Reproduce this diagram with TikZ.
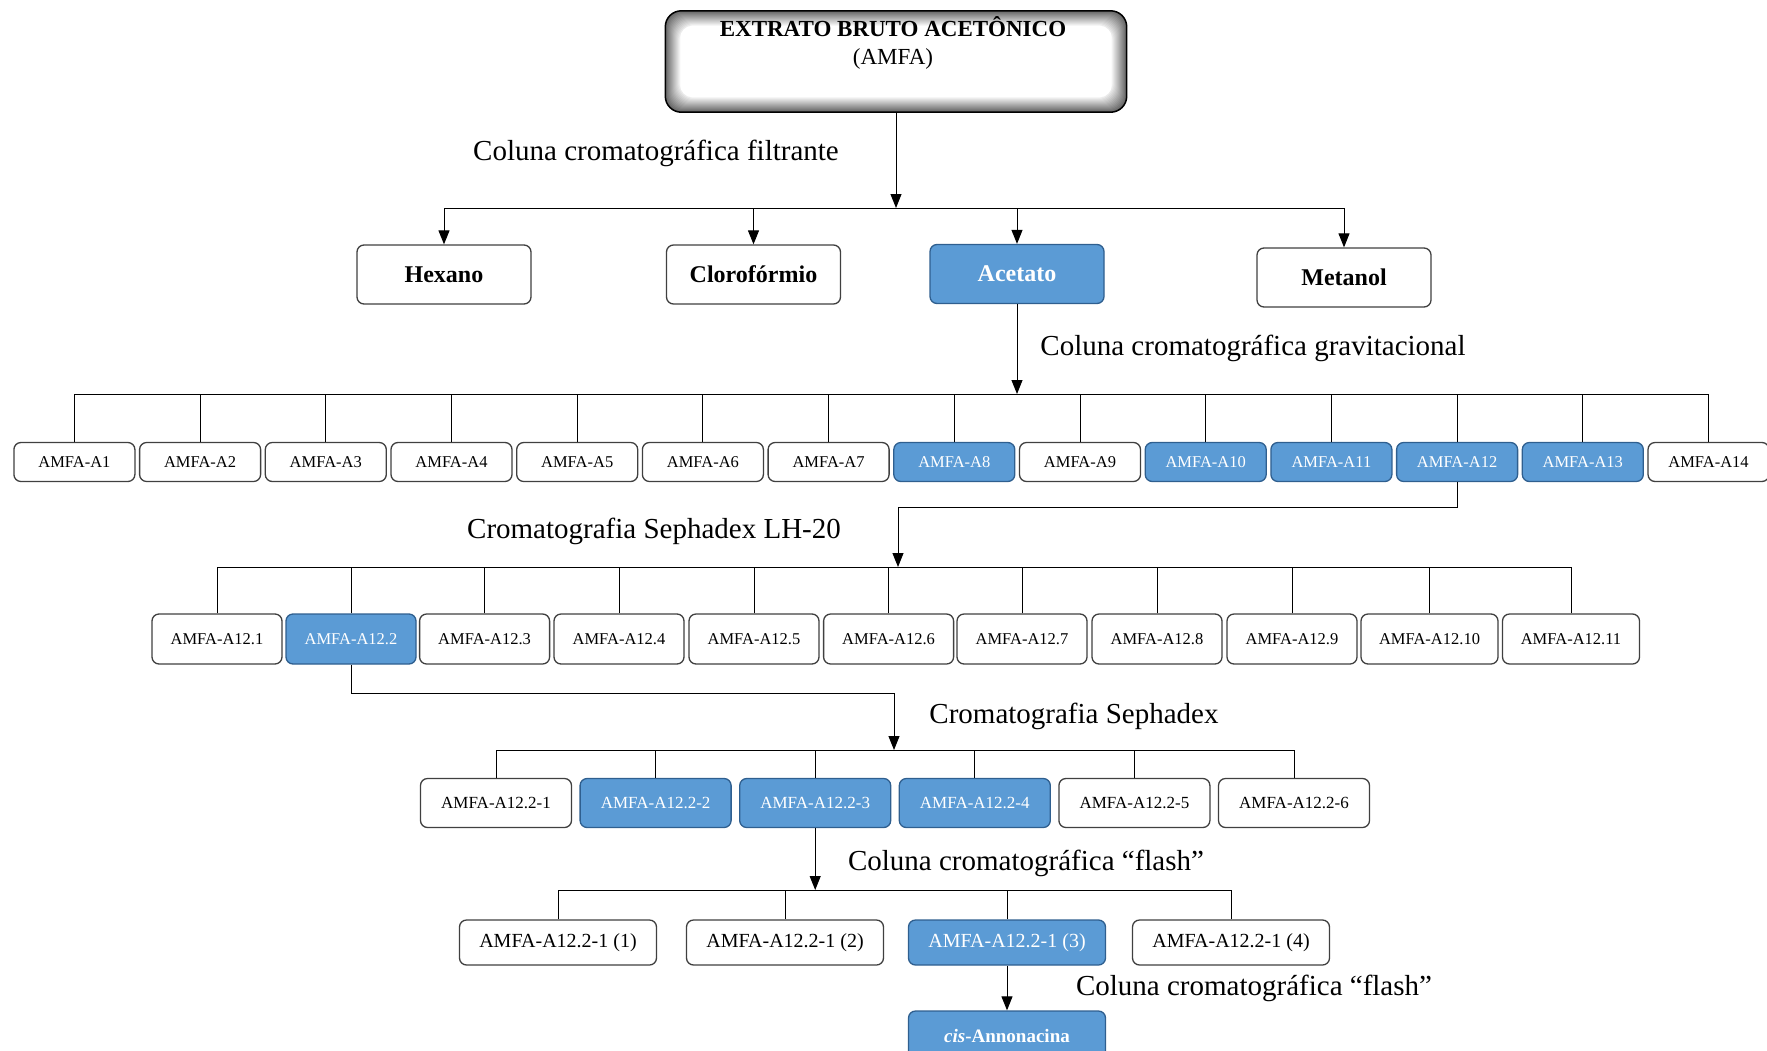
\documentclass[tikz,border=0pt]{standalone}
\usepackage{fontspec}
\setmainfont{Liberation Serif}
\usetikzlibrary{arrows.meta}

\definecolor{azul}{HTML}{5B9BD5}
\definecolor{azulborda}{HTML}{2F5F8F}
\definecolor{borda}{HTML}{404040}

\tikzset{
  caixa/.style={draw=borda, line width=1.3pt, rounded corners=7pt, fill=white, inner sep=0pt},
  destaque/.style={fill=azul, draw=azulborda, text=white},
  comum/.style={},
  solvente/.style={caixa, minimum width=174pt, minimum height=59pt, font=\fontsize{24}{28}\selectfont\bfseries},
  fracA/.style={caixa, minimum width=121pt, minimum height=39pt, font=\fontsize{16.5}{19}\selectfont},
  fracB/.style={caixa, minimum height=50pt, font=\fontsize{16.5}{19}\selectfont},
  fracC/.style={caixa, minimum width=151pt, minimum height=49pt, font=\fontsize{17}{20}\selectfont},
  fracD/.style={caixa, minimum width=197pt, minimum height=45pt, font=\fontsize{20}{24}\selectfont},
  rotulo/.style={font=\fontsize{29}{34}\selectfont},
  liga/.style={line width=1pt},
  fluxo/.style={liga, -{Triangle[length=14pt,width=11pt]}},
}

\begin{document}
\begin{tikzpicture}[x=1pt,y=-1pt]

\useasboundingbox (0,0) rectangle (1767,1050);

% extrato bruto
\node[minimum width=461pt, minimum height=101pt] (extrato) at (896,61.5) {};
\foreach \k [evaluate=\k as \g using int(60-4*\k)] in {0,...,14}
  \fill[black!\g, rounded corners=16pt] ([shift={(\k,\k)}]extrato.north west) rectangle ([shift={(-\k,-\k)}]extrato.south east);
\fill[white, rounded corners=12pt] ([shift={(15,15)}]extrato.north west) rectangle ([shift={(-15,-15)}]extrato.south east);
\draw[line width=1.5pt, rounded corners=16pt] (extrato.north west) rectangle (extrato.south east);
\node[font=\fontsize{23}{27}\selectfont\bfseries] (extratonome) at (893,27) {EXTRATO BRUTO ACETÔNICO};
\node[font=\fontsize{23}{27}\selectfont] (extratosigla) at (893,59) {(AMFA)};

% particao
\node[rotulo] (filtrante) at (656,153) {Coluna cromatográfica filtrante};
\coordinate (bus1) at (0,208);

\node[solvente] (hexano) at (444,274.5) {Hexano};
\node[solvente] (cloro) at (753.5,274.5) {Clorofórmio};
\node[solvente,destaque] (acetato) at (1017,274) {Acetato};
\node[solvente] (metanol) at (1344,277.5) {Metanol};

\draw[fluxo] (extrato.south) -- (extrato.south |- bus1);
\draw[liga] (hexano.north |- bus1) -- (metanol.north |- bus1);
\foreach \n in {hexano,cloro,acetato,metanol}
  \draw[fluxo] (\n.north |- bus1) -- (\n.north);

% coluna gravitacional
\node[rotulo] (gravitacional) at (1253,348) {Coluna cromatográfica gravitacional};
\coordinate (bus2) at (0,394);
\draw[fluxo] (acetato.south) -- (acetato.south |- bus2);

\foreach \i/\s in {1/comum,2/comum,3/comum,4/comum,5/comum,6/comum,7/comum,
                   8/destaque,9/comum,10/destaque,11/destaque,12/destaque,13/destaque,14/comum}{
  \node[fracA,\s] (a\i) at ({74.4+125.7*(\i-1)},462) {AMFA-A\i};
  \draw[liga] (a\i.north) -- (a\i.north |- bus2);
}
\draw[liga] (a1.north |- bus2) -- (a14.north |- bus2);

% sephadex LH-20
\node[rotulo] (lh) at (654,531) {Cromatografia Sephadex LH-20};
\coordinate (desvio3) at (898,507);
\coordinate (bus3) at (898,567);
\draw[fluxo] (a12.south) |- (desvio3) -- (bus3);

\foreach \x/\i/\s/\w in {217/1/comum/130,351/2/destaque/130,484.6/3/comum/130,619/4/comum/130,
                         754/5/comum/130,888.6/6/comum/130,1022/7/comum/130,1157/8/comum/130,
                         1292/9/comum/130,1429.5/10/comum/137,1571/11/comum/137}{
  \node[fracB,\s,minimum width=\w pt] (b\i) at (\x,639) {AMFA-A12.\i};
  \draw[liga] (b\i.north) -- (b\i.north |- bus3);
}
\draw[liga] (b1.north |- bus3) -- (b11.north |- bus3);

% sephadex
\node[rotulo] (sephadex) at (1074,716) {Cromatografia Sephadex};
\coordinate (desvio4) at (894,693);
\coordinate (bus4) at (894,750);
\draw[fluxo] (b2.south) |- (desvio4) -- (bus4);

\foreach \i/\s in {1/comum,2/destaque,3/destaque,4/destaque,5/comum,6/comum}{
  \node[fracC,\s] (c\i) at ({496+159.6*(\i-1)},803) {AMFA-A12.2-\i};
  \draw[liga] (c\i.north) -- (c\i.north |- bus4);
}
\draw[liga] (c1.north |- bus4) -- (c6.north |- bus4);

% flash
\node[rotulo] (flashA) at (1026,863) {Coluna cromatográfica “flash”};
\coordinate (bus5) at (0,890);
\draw[fluxo] (c3.south) -- (c3.south |- bus5);

\foreach \x/\i/\s in {558/1/comum,785/2/comum,1007/3/destaque,1231/4/comum}{
  \node[fracD,\s] (d\i) at (\x,942.5) {AMFA-A12.2-1 (\i)};
  \draw[liga] (d\i.north) -- (d\i.north |- bus5);
}
\draw[liga] (d1.north |- bus5) -- (d4.north |- bus5);

\node[rotulo] (flashB) at (1254,988) {Coluna cromatográfica “flash”};
\node[fracD,destaque,minimum height=50pt,font=\fontsize{19}{23}\selectfont\bfseries] (cis) at (1007,1036) {\textit{cis}-Annonacina};
\draw[fluxo] (d3.south) -- (cis.north);

\end{tikzpicture}
\end{document}
